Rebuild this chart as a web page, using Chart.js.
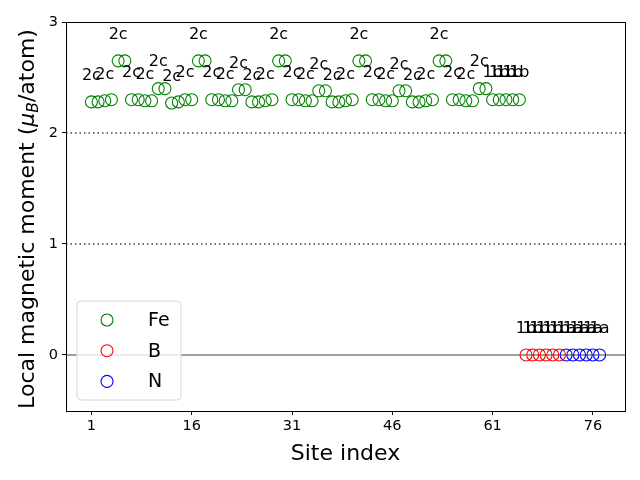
<!DOCTYPE html>
<html>
<head>
<meta charset="utf-8">
<script src="https://cdn.jsdelivr.net/npm/chart.js@4"></script>
<style>
  html, body { margin: 0; padding: 0; background: #fff; }
  canvas { display: block; }
</style>
</head>
<body>
<canvas id="momentChart" width="640" height="480"></canvas>
<script>
// site indices
var feSites = [1,2,3,4,5,6,7,8,9,10,11,12,13,14,15,16,17,18,19,20,21,22,23,24,25,26,27,28,29,30,
               31,32,33,34,35,36,37,38,39,40,41,42,43,44,45,46,47,48,49,50,51,52,53,54,55,56,57,58,59,60,
               61,62,63,64,65];
var bSites = [66,67,68,69,70,71];
var nSites = [72,73,74,75,76,77];

// local magnetic moments (muB/atom)
var feMoments = [2.28,2.28,2.29,2.30, 2.65,2.65, 2.30,2.30,2.29,2.29, 2.40,2.40,
                 2.27,2.28,2.30,2.30, 2.65,2.65, 2.30,2.30,2.29,2.29, 2.39,2.39,
                 2.28,2.28,2.29,2.30, 2.65,2.65, 2.30,2.30,2.29,2.29, 2.38,2.38,
                 2.28,2.28,2.29,2.30, 2.65,2.65, 2.30,2.30,2.29,2.29, 2.38,2.38,
                 2.28,2.28,2.29,2.30, 2.65,2.65, 2.30,2.30,2.29,2.29, 2.40,2.40,
                 2.30,2.30,2.30,2.30,2.30];
var bMoments = [0,0,0,0,0,0];
var nMoments = [0,0,0,0,0,0];

// Wyckoff labels
var feLabels = ['2c','','2c','','2c','','2c','','2c','','2c','',
                '2c','','2c','','2c','','2c','','2c','','2c','',
                '2c','','2c','','2c','','2c','','2c','','2c','',
                '2c','','2c','','2c','','2c','','2c','','2c','',
                '2c','','2c','','2c','','2c','','2c','','2c','',
                '1b','1b','1b','1b','1b'];
var bLabels = ['1b','1b','1b','1b','1b','1b'];
var nLabels = ['1a','1a','1a','1a','1a','1a'];

var xTicks = [1, 16, 31, 46, 61, 76];
var yTicks = [0, 1, 2, 3];
var refLines = [1, 2];

var FONT = "'DejaVu Sans', sans-serif";

function toPoints(xs, ys) {
    return xs.map(function(x, i) { return { x: x, y: ys[i] }; });
}

var datasets = [
    { label: 'Fe', data: toPoints(feSites, feMoments), borderColor: '#008000', tags: feLabels },
    { label: 'B',  data: toPoints(bSites, bMoments),   borderColor: '#ff0000', tags: bLabels },
    { label: 'N',  data: toPoints(nSites, nMoments),   borderColor: '#0000ff', tags: nLabels }
];
datasets.forEach(function(d) {
    d.backgroundColor = 'rgba(0,0,0,0)';
    d.pointRadius = 6;
    d.pointHoverRadius = 6;
    d.pointBorderWidth = 1.1;
    d.showLine = false;
});

// reference lines behind the points
var refLinePlugin = {
    id: 'refLines',
    beforeDatasetsDraw: function(chart) {
        var ctx = chart.ctx, a = chart.chartArea, ys = chart.scales.y;
        ctx.save();
        ctx.lineWidth = 1.5;
        ctx.strokeStyle = '#404040';
        ctx.setLineDash([1.5, 3]);
        refLines.forEach(function(v) {
            var py = ys.getPixelForValue(v);
            ctx.beginPath();
            ctx.moveTo(a.left, py);
            ctx.lineTo(a.right, py);
            ctx.stroke();
        });
        ctx.setLineDash([]);
        ctx.strokeStyle = '#808080';
        var p0 = ys.getPixelForValue(0);
        ctx.beginPath();
        ctx.moveTo(a.left, p0);
        ctx.lineTo(a.right, p0);
        ctx.stroke();
        ctx.restore();
    }
};

// site labels above each point
var tagPlugin = {
    id: 'siteTags',
    afterDatasetsDraw: function(chart) {
        var ctx = chart.ctx, xs = chart.scales.x, ys = chart.scales.y;
        ctx.save();
        ctx.fillStyle = '#000';
        ctx.font = '16px ' + FONT;
        ctx.textAlign = 'center';
        ctx.textBaseline = 'alphabetic';
        chart.data.datasets.forEach(function(d) {
            d.data.forEach(function(p, i) {
                var t = d.tags[i];
                if (!t) return;
                ctx.fillText(t, xs.getPixelForValue(p.x), ys.getPixelForValue(p.y + 0.2));
            });
        });
        ctx.restore();
    }
};

// frame, y title with subscript, legend
var decorPlugin = {
    id: 'decor',
    afterDraw: function(chart) {
        var ctx = chart.ctx, a = chart.chartArea;
        ctx.save();
        ctx.strokeStyle = '#000';
        ctx.lineWidth = 1;
        ctx.strokeRect(a.left + 0.5, a.top + 0.5, a.right - a.left, a.bottom - a.top);

        // y title
        var parts = [
            { t: 'Local magnetic moment (', f: '22px ' + FONT, dy: 0 },
            { t: '\u03bc', f: 'italic 22px ' + FONT, dy: 0 },
            { t: 'B', f: 'italic 15.5px ' + FONT, dy: 4.5 },
            { t: '/atom)', f: '22px ' + FONT, dy: 0 }
        ];
        var total = 0;
        parts.forEach(function(p) { ctx.font = p.f; p.w = ctx.measureText(p.t).width; total += p.w; });
        ctx.translate(33.5, 219);
        ctx.rotate(-Math.PI / 2);
        ctx.fillStyle = '#000';
        ctx.textBaseline = 'alphabetic';
        ctx.textAlign = 'left';
        var cx = -total / 2;
        parts.forEach(function(p) { ctx.font = p.f; ctx.fillText(p.t, cx, p.dy); cx += p.w; });
        ctx.restore();

        // legend
        ctx.save();
        var bx = 77, by = 301, bw = 104, bh = 99, r = 4;
        ctx.beginPath();
        ctx.moveTo(bx + r, by);
        ctx.arcTo(bx + bw, by, bx + bw, by + bh, r);
        ctx.arcTo(bx + bw, by + bh, bx, by + bh, r);
        ctx.arcTo(bx, by + bh, bx, by, r);
        ctx.arcTo(bx, by, bx + bw, by, r);
        ctx.closePath();
        ctx.fillStyle = 'rgba(255,255,255,0.8)';
        ctx.fill();
        ctx.strokeStyle = '#d6d6d6';
        ctx.lineWidth = 1;
        ctx.stroke();
        ctx.font = '19px ' + FONT;
        ctx.textBaseline = 'middle';
        chart.data.datasets.forEach(function(d, i) {
            var ly = 320 + i * 30.7;
            ctx.beginPath();
            ctx.arc(107, ly, 6, 0, Math.PI * 2);
            ctx.strokeStyle = d.borderColor;
            ctx.lineWidth = 1.1;
            ctx.stroke();
            ctx.fillStyle = '#000';
            ctx.fillText(d.label, 148, ly + 1);
        });
        ctx.restore();
    }
};

var chart = new Chart(document.getElementById('momentChart').getContext('2d'), {
    type: 'scatter',
    data: { datasets: datasets },
    options: {
        responsive: false,
        animation: false,
        devicePixelRatio: 1,
        layout: { padding: { left: 0, top: 22, right: 15, bottom: 0 } },
        plugins: { legend: { display: false }, tooltip: { enabled: false } },
        scales: {
            x: {
                type: 'linear',
                min: -2.8,
                max: 80.8,
                afterBuildTicks: function(s) { s.ticks = xTicks.map(function(v) { return { value: v }; }); },
                afterFit: function(s) { s.height = 69; },
                ticks: { font: { family: FONT, size: 14.5 }, color: '#000', padding: 3, maxRotation: 0 },
                grid: { drawOnChartArea: false, drawTicks: true, tickLength: 4, color: '#000' },
                border: { display: true, color: '#000', width: 1 },
                title: { display: true, text: 'Site index', color: '#000',
                         font: { family: FONT, size: 22 }, padding: { top: 0, bottom: 12.5 } }
            },
            y: {
                type: 'linear',
                min: -0.505,
                max: 3,
                afterBuildTicks: function(s) { s.ticks = yTicks.map(function(v) { return { value: v }; }); },
                afterFit: function(s) { s.width = 66; },
                ticks: { font: { family: FONT, size: 14.5 }, color: '#000', padding: 4 },
                grid: { drawOnChartArea: false, drawTicks: true, tickLength: 4, color: '#000' },
                border: { display: true, color: '#000', width: 1 }
            }
        }
    },
    plugins: [refLinePlugin, tagPlugin, decorPlugin]
});
</script>
</body>
</html>
